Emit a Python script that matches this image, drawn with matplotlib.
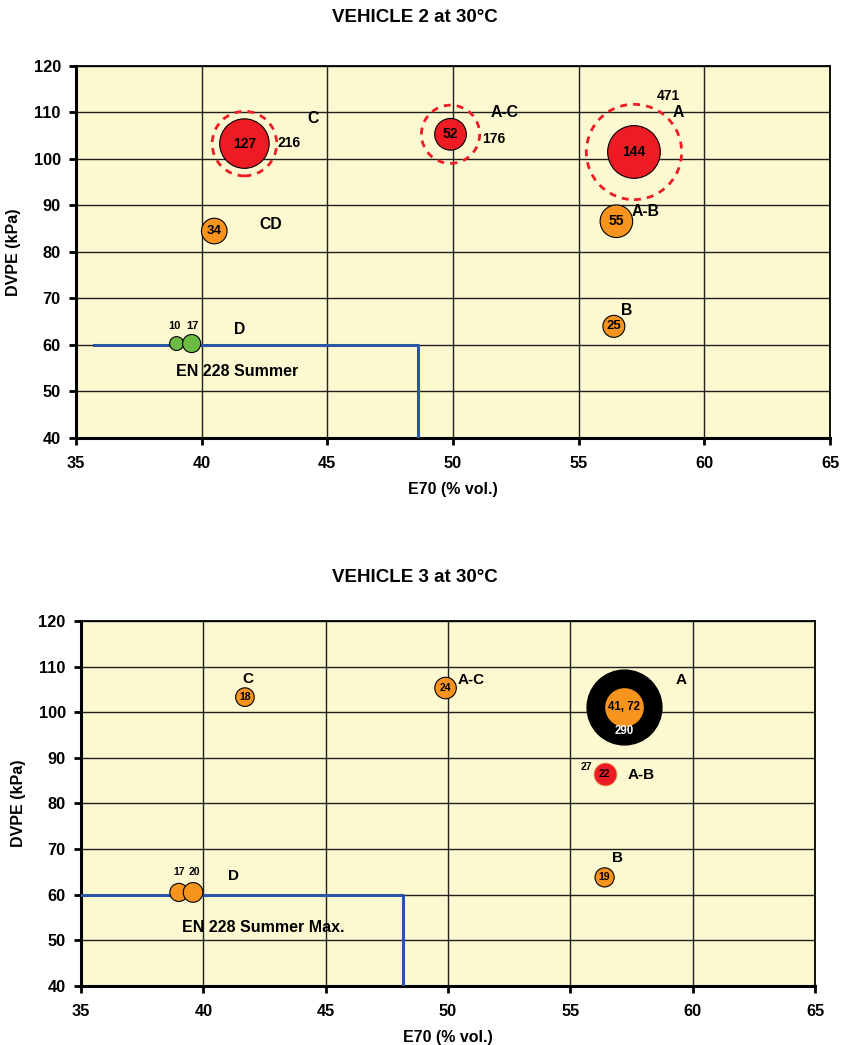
import numpy as np
import matplotlib
matplotlib.use("Agg")
import matplotlib.pyplot as plt

plt.rcParams['font.family'] = ['Liberation Sans', 'DejaVu Sans']
plt.rcParams['font.weight'] = 'bold'

RED = '#ED1C24'
ORANGE = '#F7941D'
GREEN = '#6CBB45'
BLUE = '#2B55A5'
BG = '#FCF8D0'

# ---- vehicle 2 data
v2_x = [41.7, 49.9, 57.2, 56.5, 56.4, 40.5, 39.0, 39.6]
v2_y = [103.3, 105.3, 101.5, 86.6, 64.0, 84.5, 60.3, 60.3]
v2_val = [127, 52, 144, 55, 25, 34, 10, 17]
v2_col = [RED, RED, RED, ORANGE, ORANGE, ORANGE, GREEN, GREEN]
v2_outer_val = [216, 176, 471]      # dashed rings around first three
v2_limit_x = [35.7, 48.6, 48.6]
v2_limit_y = [60, 60, 40]

# ---- vehicle 3 data
v3_x = [41.7, 49.9, 56.4, 39.0, 39.58]
v3_y = [103.3, 105.3, 63.8, 60.5, 60.5]
v3_val = [18, 24, 19, 17, 20]
v3_A = (57.2, 101.2, 290, 72)       # x, y, black ring, orange
v3_AB = (56.4, 86.4, 27, 22)        # x, y, orange ring, red
v3_limit_x = [35, 48.15, 48.15]
v3_limit_y = [60, 60, 40]

S = 10.0  # bubble area scale (pt^2 per unit)


def style_axes(ax):
    ax.set_facecolor(BG)
    ax.set_xlim(35, 65)
    ax.set_ylim(40, 120)
    ax.set_xticks(np.arange(35, 66, 5))
    ax.set_yticks(np.arange(40, 121, 10))
    ax.grid(True, color='#202020', lw=1.0)
    ax.set_axisbelow(True)
    for s in ['left', 'bottom']:
        ax.spines[s].set_linewidth(2.2)
    for s in ['top', 'right']:
        ax.spines[s].set_linewidth(1.3)
    ax.tick_params(direction='out', length=5, width=2, labelsize=11.8, pad=6)
    ax.tick_params(axis='x', pad=8)
    for lab in ax.get_xticklabels() + ax.get_yticklabels():
        lab.set_fontweight('bold')
    ax.set_xlabel('E70 (% vol.)', fontsize=11.5, fontweight='bold', labelpad=8)
    ax.set_ylabel('DVPE (kPa)', fontsize=11.5, fontweight='bold', labelpad=9)


fig = plt.figure(figsize=(8.43, 10.45), dpi=100)
fig.text(415 / 843, 1 - 17 / 1045, 'VEHICLE 2 at 30°C', ha='center', va='center',
         fontsize=13.5, fontweight='bold')
fig.text(415 / 843, 1 - 577 / 1045, 'VEHICLE 3 at 30°C', ha='center', va='center',
         fontsize=13.5, fontweight='bold')

# ---------------- top: vehicle 2
ax1 = fig.add_axes([0.0902, 0.5809, 0.8944, 0.356])
style_axes(ax1)
ax1.plot(v2_limit_x, v2_limit_y, color=BLUE, lw=2.2, zorder=3)
ax1.scatter(v2_x[:3], v2_y[:3], s=[S * v for v in v2_outer_val], facecolors='none',
            edgecolors=RED, linewidths=2, linestyles=(0, (2.5, 2.2)), zorder=4)
ax1.scatter(v2_x, v2_y, s=[S * v for v in v2_val], c=v2_col, edgecolors='black',
            linewidths=0.8, zorder=5)
for i in range(6):
    fs = 10 if v2_val[i] >= 50 else 9.5
    ax1.text(v2_x[i], v2_y[i], str(v2_val[i]), ha='center', va='center',
             fontsize=fs, fontweight='bold', zorder=6)
ax1.text(v2_x[6] - 0.1, 64.1, str(v2_val[6]), ha='center', va='center', fontsize=8, fontweight='bold')
ax1.text(v2_x[7] + 0.05, 64.1, str(v2_val[7]), ha='center', va='center', fontsize=8, fontweight='bold')
ax1.text(43.0, 103.4, str(v2_outer_val[0]), ha='left', va='center', fontsize=10, fontweight='bold')
ax1.text(51.15, 104.3, str(v2_outer_val[1]), ha='left', va='center', fontsize=10, fontweight='bold')
ax1.text(58.1, 113.5, str(v2_outer_val[2]), ha='left', va='center', fontsize=10, fontweight='bold')
for txt, x, y in [('C', 44.2, 108.6), ('A-C', 51.5, 109.9), ('A', 58.75, 109.9),
                  ('A-B', 57.1, 88.6), ('B', 56.7, 67.5), ('CD', 42.3, 86.0),
                  ('D', 41.3, 63.4)]:
    ax1.text(x, y, txt, ha='left', va='center', fontsize=11.3, fontweight='bold')
ax1.text(41.4, 54.2, 'EN 228 Summer', ha='center', va='center', fontsize=11.5, fontweight='bold')

# ---------------- bottom: vehicle 3
ax2 = fig.add_axes([0.0961, 0.0565, 0.8707, 0.3493])
style_axes(ax2)
ax2.plot(v3_limit_x, v3_limit_y, color=BLUE, lw=2.2, zorder=3)
ax2.scatter(v3_x, v3_y, s=[S * v for v in v3_val], c=ORANGE, edgecolors='black',
            linewidths=0.8, zorder=5)
for i in range(3):
    ax2.text(v3_x[i], v3_y[i], str(v3_val[i]), ha='center', va='center',
             fontsize=7.5, fontweight='bold', zorder=6)
ax2.text(v3_x[3], 65.0, str(v3_val[3]), ha='center', va='center', fontsize=7.5, fontweight='bold')
ax2.text(v3_x[4] + 0.05, 65.0, str(v3_val[4]), ha='center', va='center', fontsize=7.5, fontweight='bold')

ax, ay, a_out, a_in = v3_A
ax2.scatter([ax], [ay], s=[S * a_out], c='black', zorder=5)
ax2.scatter([ax], [ay], s=[S * a_in], c=ORANGE, zorder=6)
ax2.text(ax, ay, '41, 72', ha='center', va='center', fontsize=8.3, fontweight='bold', zorder=7)
ax2.text(ax, ay - 5.25, str(a_out), ha='center', va='center', fontsize=8.3,
         fontweight='bold', color='white', zorder=7)

bx, by, b_out, b_in = v3_AB
ax2.scatter([bx], [by], s=[S * b_out], c=ORANGE, edgecolors='#E0A868', linewidths=0.6, zorder=5)
ax2.scatter([bx], [by], s=[S * b_in], c=RED, zorder=6)
ax2.text(bx, by, str(b_in), ha='center', va='center', fontsize=7.5, fontweight='bold', zorder=7)
ax2.text(55.64, 88.0, str(b_out), ha='center', va='center', fontsize=7.5, fontweight='bold')

for txt, x, y in [('C', 41.58, 107.3), ('A-C', 50.4, 107.1), ('A', 59.3, 107.1),
                  ('A-B', 57.35, 86.25), ('B', 56.7, 68.0), ('D', 41.0, 64.1)]:
    ax2.text(x, y, txt, ha='left', va='center', fontsize=11, fontweight='bold')
ax2.text(42.44, 52.9, 'EN 228 Summer Max.', ha='center', va='center', fontsize=11.5, fontweight='bold')

fig.savefig('out.png', dpi=100)
